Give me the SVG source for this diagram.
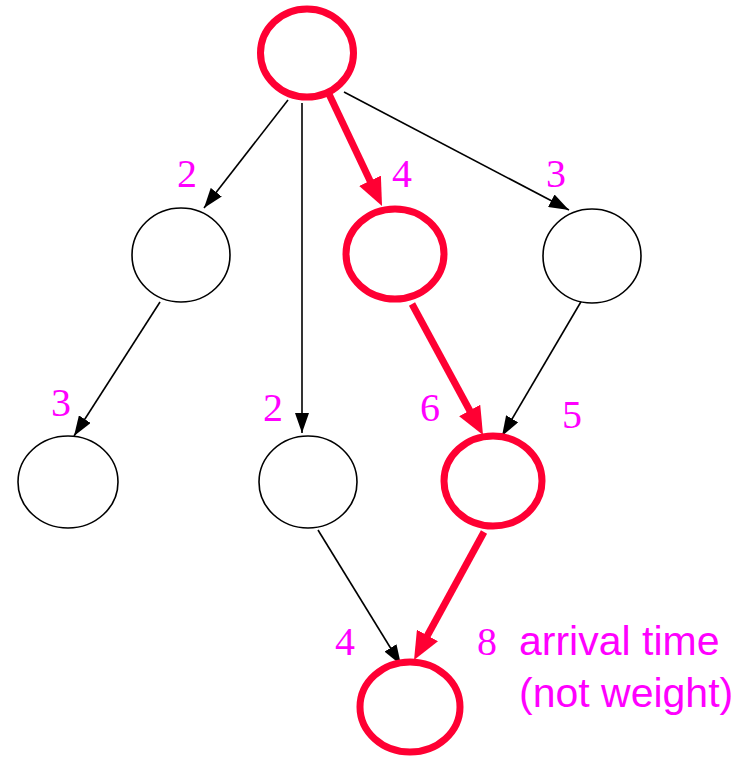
<svg xmlns="http://www.w3.org/2000/svg" width="752" height="758" viewBox="0 0 752 758">
<style>
.n{fill:#fff;stroke:#000;stroke-width:1.6}
.r{fill:#fff;stroke:#ff0033;stroke-width:7}
.e{stroke:#000;stroke-width:1.6;fill:none}
.er{stroke:#ff0033;stroke-width:7;fill:none}
.l{font-family:"Liberation Serif","Times New Roman",serif;font-size:40px;fill:#ff00ff;text-anchor:middle}
.t{font-family:"Liberation Sans",Arial,sans-serif;font-size:41px;fill:#ff00ff}
</style>
<defs>
<marker id="ab" markerUnits="userSpaceOnUse" markerWidth="20" markerHeight="14" refX="20" refY="7" orient="auto">
<path d="M0,0 L20,7 L0,14 z" fill="#000"/>
</marker>
<marker id="ar" markerUnits="userSpaceOnUse" markerWidth="28" markerHeight="24" refX="16" refY="12" orient="auto">
<path d="M0,0 L28,12 L0,24 z" fill="#ff0033"/>
</marker>
</defs>
<g id="connectors">
<line class="e" x1="288" y1="100" x2="204" y2="208" marker-end="url(#ab)"/>
<line class="e" x1="302" y1="103" x2="302" y2="433" marker-end="url(#ab)"/>
<line class="er" x1="328" y1="92" x2="376.9" y2="195.2" marker-end="url(#ar)"/>
<line class="e" x1="344" y1="92" x2="569" y2="210" marker-end="url(#ab)"/>
<line class="e" x1="160" y1="302" x2="74" y2="436" marker-end="url(#ab)"/>
<line class="e" x1="582" y1="300" x2="502" y2="436" marker-end="url(#ab)"/>
<line class="er" x1="412" y1="304" x2="477.3" y2="424.5" marker-end="url(#ar)"/>
<line class="e" x1="318" y1="530" x2="401" y2="665" marker-end="url(#ab)"/>
<line class="er" x1="484" y1="532" x2="419.8" y2="649.5" marker-end="url(#ar)"/>
</g>
<g id="n-top"><ellipse class="r" cx="307" cy="53" rx="46.5" ry="44"/></g>
<g id="n-a"><ellipse class="n" cx="181" cy="255" rx="49" ry="47"/></g>
<g id="n-b"><ellipse class="r" cx="395" cy="254" rx="49" ry="45"/></g>
<g id="n-c"><ellipse class="n" cx="592" cy="256" rx="49" ry="47"/></g>
<g id="n-d"><ellipse class="n" cx="68" cy="482" rx="50" ry="46"/></g>
<g id="n-e"><ellipse class="n" cx="308" cy="482" rx="49" ry="46"/></g>
<g id="n-f"><ellipse class="r" cx="493" cy="481" rx="49" ry="45"/></g>
<g id="n-g"><ellipse class="r" cx="410" cy="707" rx="50" ry="45"/></g>
<g id="labels">
<text class="l" x="187" y="187">2</text>
<text class="l" x="402" y="187">4</text>
<text class="l" x="556" y="187">3</text>
<text class="l" x="61" y="416">3</text>
<text class="l" x="273" y="421">2</text>
<text class="l" x="430" y="421">6</text>
<text class="l" x="572" y="428">5</text>
<text class="l" x="345" y="655">4</text>
<text class="l" x="487" y="655">8</text>
<text class="t" x="519" y="655">arrival time</text>
<text class="t" x="519" y="707">(not weight)</text>
</g>
</svg>
